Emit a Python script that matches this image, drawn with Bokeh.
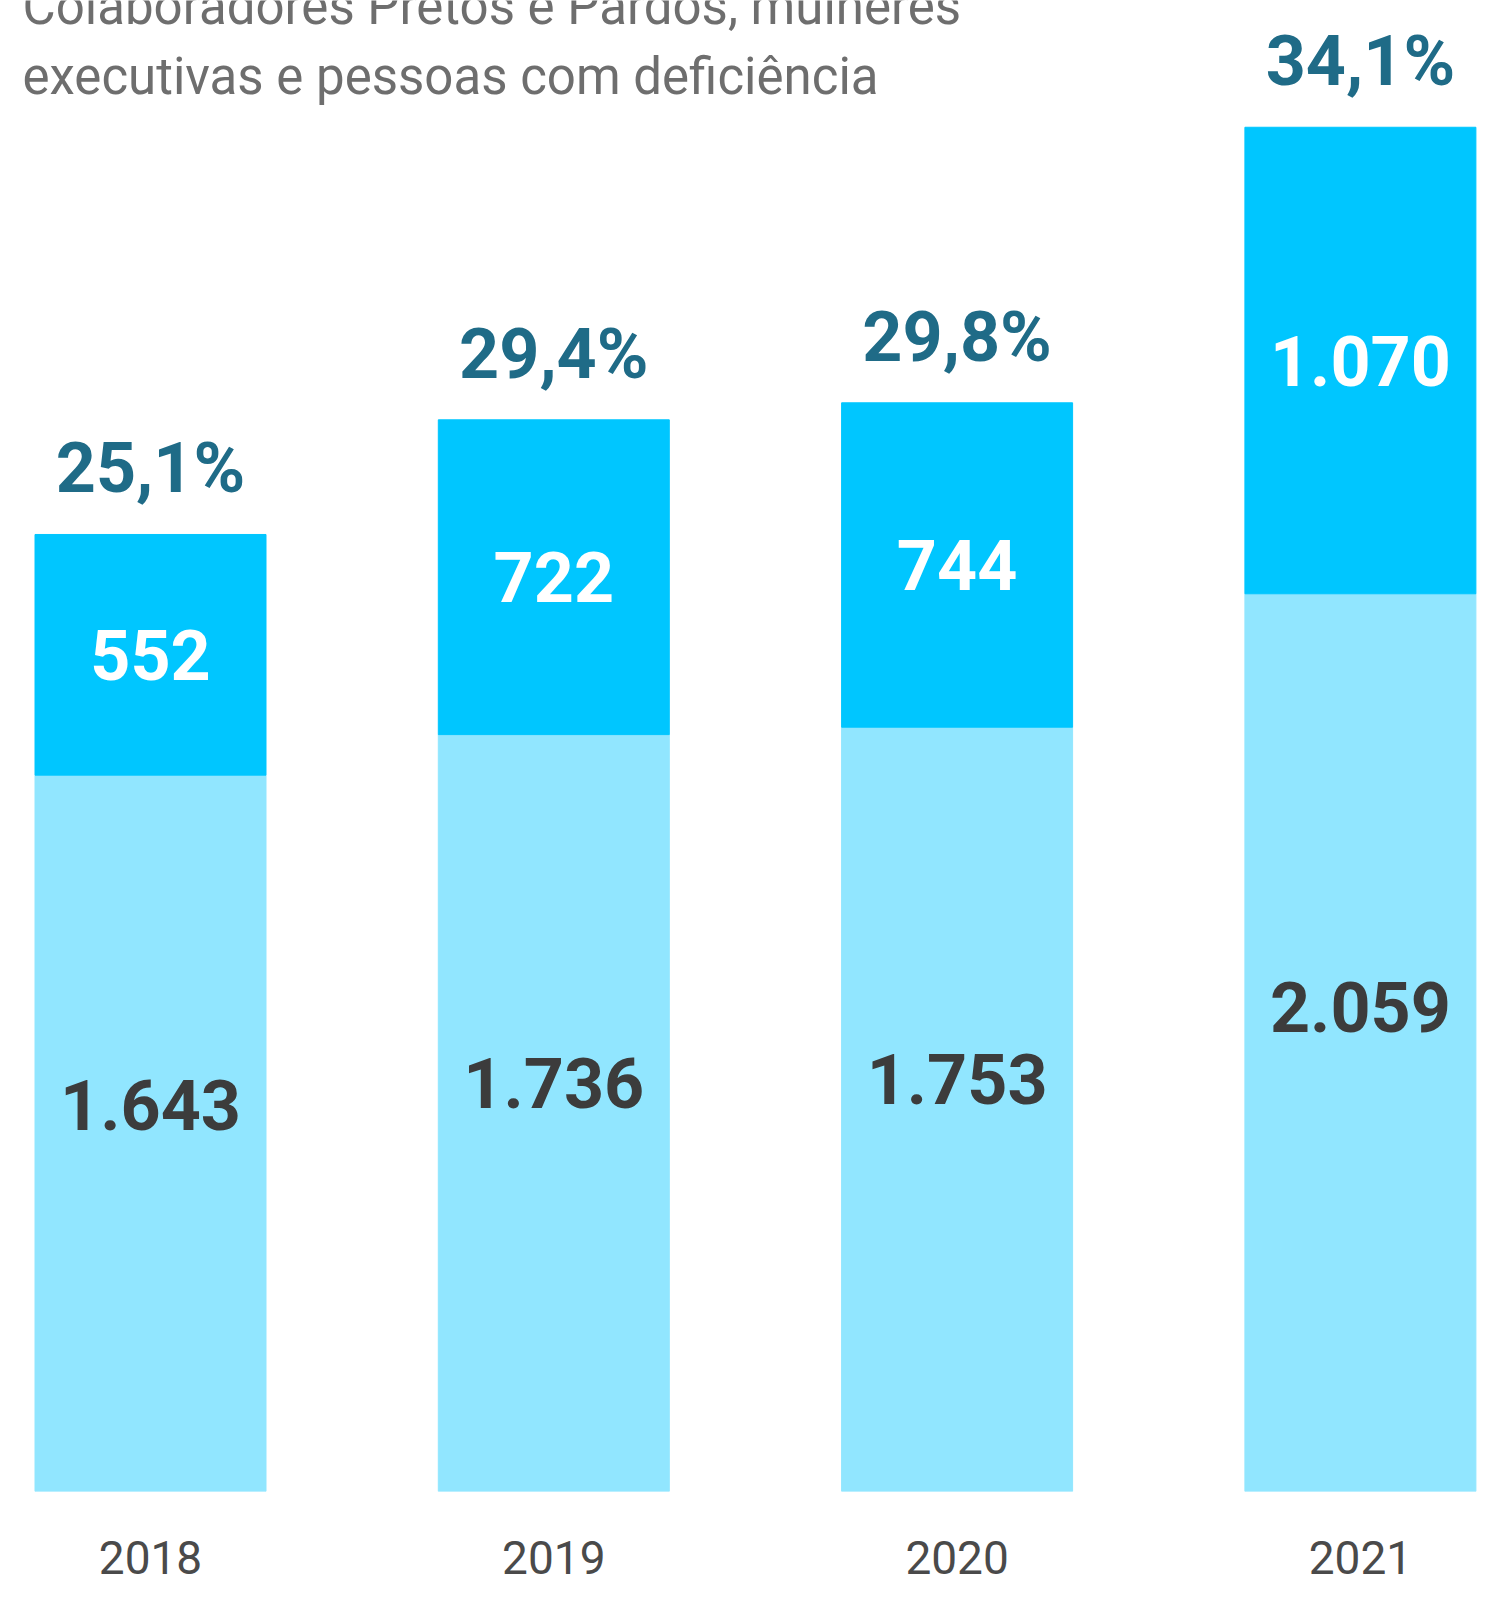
from bokeh.plotting import figure
from bokeh.models import Range1d, FixedTicker, ColumnDataSource
from bokeh.core.properties import value
from bokeh.embed import file_html
from bokeh.resources import INLINE

# ---- data ----
years = ["2018", "2019", "2020", "2021"]
base_vals = [1643, 1736, 1753, 2059]      # lower segment
top_vals = [552, 722, 744, 1070]          # upper segment
pct_labels = ["25,1%", "29,4%", "29,8%", "34,1%"]
title_lines = ["Colaboradores Pretos e Pardos, mulheres",
               "executivas e pessoas com deficiência"]

# ---- layout constants ----
W, H = 1485, 1600
BOTTOM = 109
PX_X = 403.3          # pixels per category step
X0 = 150              # pixel centre of first bar
PX_Y = 0.436          # pixels per unit
frame_h = H - BOTTOM
x_start = -X0 / PX_X
x_end = x_start + W / PX_X
y_end = frame_h / PX_Y

FONT = value("Roboto")
C_TOP = "#00C6FF"
C_BASE = "#91E6FF"
C_PCT = "#1F6B87"
C_DARK = "#3C3C3C"

def fmt(v):
    return f"{v:,}".replace(",", ".")

xs = list(range(len(years)))
totals = [b + t for b, t in zip(base_vals, top_vals)]
src = ColumnDataSource(dict(
    x=xs,
    base=base_vals,
    total=totals,
    base_lab=[fmt(v) for v in base_vals],
    top_lab=[fmt(v) for v in top_vals],
    pct=pct_labels,
    base_y=[b * 0.54 for b in base_vals],
    top_y=[b + t / 2 for b, t in zip(base_vals, top_vals)],
    pct_y=[tt + 66 / PX_Y for tt in totals],
))

p = figure(width=W, height=H, output_backend="svg", toolbar_location=None,
           x_range=Range1d(x_start, x_end), y_range=Range1d(0, y_end),
           y_axis_location=None, min_border_left=0, min_border_right=0,
           min_border_top=0, min_border_bottom=BOTTOM)
p.outline_line_color = None
p.grid.visible = False
p.background_fill_color = "white"
p.border_fill_color = "white"

bw = 231 / PX_X
p.vbar(x="x", bottom=0, top="base", width=bw, color=C_BASE, source=src)
p.vbar(x="x", bottom="base", top="total", width=bw, color=C_TOP, source=src)

p.text(x="x", y="base_y", text="base_lab", source=src, text_align="center",
       text_baseline="middle", text_font=FONT, text_font_size="70px",
       text_color=C_DARK, text_font_style="bold")
p.text(x="x", y="top_y", text="top_lab", source=src, text_align="center",
       text_baseline="middle", text_font=FONT, text_font_size="70px",
       text_color="white", text_font_style="bold")
p.text(x="x", y="pct_y", text="pct", source=src, text_align="center",
       text_baseline="middle", text_font=FONT, text_font_size="70px",
       text_color=C_PCT, text_font_style="bold")

# title (top line partly cut off as in the original)
tx = x_start + 22 / PX_X
p.text(x=[tx, tx], y=[(frame_h - 6) / PX_Y, (frame_h - 76) / PX_Y],
       text=title_lines, text_align="left", text_baseline="alphabetic",
       text_font=FONT, text_font_size="51px", text_color="#6E6E6E")

ax = p.xaxis[0]
ax.ticker = FixedTicker(ticks=xs)
ax.major_label_overrides = {i: y for i, y in zip(xs, years)}
ax.axis_line_color = None
ax.major_tick_line_color = None
ax.minor_tick_line_color = None
ax.major_tick_out = 0
ax.major_tick_in = 0
ax.major_label_standoff = 49
ax.major_label_text_font = "Roboto"
ax.major_label_text_font_size = "46px"
ax.major_label_text_color = "#4A4A4A"

open("out.html", "w").write(file_html(p, INLINE))
